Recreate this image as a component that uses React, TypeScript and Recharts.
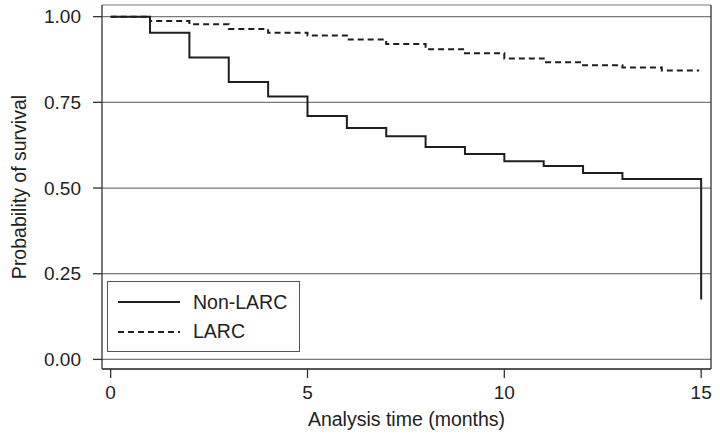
import { LineChart, Line, XAxis, YAxis, CartesianGrid, Legend, ReferenceLine } from "recharts";

// Kaplan-Meier estimates (months, survival probability)
const nonLarcTimes = [0, 1, 2, 3, 4, 5, 6, 7, 8, 9, 10, 11, 12, 13, 15];
const nonLarcSurv = [1.0, 0.953, 0.881, 0.809, 0.767, 0.71, 0.675, 0.651, 0.62, 0.599, 0.578, 0.564, 0.544, 0.526, 0.175];

const larcTimes = [0, 1, 2, 3, 4, 5, 6, 7, 8, 9, 10, 11, 12, 13, 14, 14.95];
const larcSurv = [1.0, 0.987, 0.978, 0.964, 0.953, 0.945, 0.933, 0.92, 0.905, 0.893, 0.878, 0.867, 0.858, 0.852, 0.843, 0.843];

const xTicks = [0, 5, 10, 15];
const yTicks = [0, 0.25, 0.5, 0.75, 1];

const nonLarcData = nonLarcTimes.map((t, i) => ({ t, s: nonLarcSurv[i] }));
const larcData = larcTimes.map((t, i) => ({ t, s: larcSurv[i] }));

const series = [
  { name: "Non-LARC", dash: undefined as string | undefined },
  { name: "LARC", dash: "6 4" },
];

const font = "'Liberation Sans', Arial, Helvetica, sans-serif";
const ink = "#1e1e1e";

function renderLegend() {
  return (
    <div
      style={{
        width: 193,
        height: 71,
        border: "1.5px solid #555",
        boxSizing: "border-box",
        position: "relative",
        background: "#fff",
        fontFamily: font,
        fontSize: 19.5,
        color: "#222",
      }}
    >
      {series.map((s, i) => (
        <div
          key={s.name}
          style={{
            position: "absolute",
            left: 10,
            top: 7 + i * 29.5,
            height: 26,
            display: "flex",
            alignItems: "center",
            whiteSpace: "nowrap",
          }}
        >
          <svg width={62} height={4} style={{ display: "block" }}>
            <line x1={0} y1={2} x2={62} y2={2} stroke={ink} strokeWidth={2} strokeDasharray={s.dash} />
          </svg>
          <span style={{ marginLeft: 13 }}>{s.name}</span>
        </div>
      ))}
    </div>
  );
}

export default function App() {
  return (
    <div style={{ position: "absolute", left: 0, top: 0, background: "#fff" }}>
      <LineChart width={720} height={434} margin={{ top: 5, right: 9, left: 0, bottom: 0 }}>
        <CartesianGrid vertical={false} stroke="#7a7a7a" strokeWidth={1.2} />
        <XAxis
          type="number"
          dataKey="t"
          domain={[-0.22, 15.25]}
          ticks={xTicks}
          allowDataOverflow
          height={65}
          tickSize={9}
          tickMargin={8}
          stroke="#333"
          strokeWidth={1.3}
          tick={{ fill: "#222", fontSize: 19, fontFamily: font }}
          label={{ value: "Analysis time (months)", position: "insideBottom", offset: 8, fill: "#222", fontSize: 19.5, fontFamily: font }}
        />
        <YAxis
          type="number"
          domain={[-0.028, 1.034]}
          ticks={yTicks}
          allowDataOverflow
          width={102}
          tickSize={9}
          tickMargin={12}
          stroke="#333"
          strokeWidth={1.3}
          tickFormatter={(v: number) => v.toFixed(2)}
          tick={{ fill: "#222", fontSize: 19, fontFamily: font }}
          label={{
            content: () => (
              <text
                x={19}
                y={187}
                transform="rotate(-90 19 187)"
                textAnchor="middle"
                dominantBaseline="central"
                fill="#222"
                fontSize={19.5}
                fontFamily={font}
              >
                Probability of survival
              </text>
            ),
          }}
        />
        <ReferenceLine x={15.25} stroke="#333" strokeWidth={1.3} ifOverflow="extendDomain" />
        <Line
          data={nonLarcData}
          dataKey="s"
          name="Non-LARC"
          type="stepAfter"
          stroke={ink}
          strokeWidth={2}
          dot={false}
          activeDot={false}
          isAnimationActive={false}
        />
        <Line
          data={larcData}
          dataKey="s"
          name="LARC"
          type="stepAfter"
          stroke={ink}
          strokeWidth={2}
          strokeDasharray="6 4"
          dot={false}
          activeDot={false}
          isAnimationActive={false}
        />
        <Legend
          layout="vertical"
          align="center"
          verticalAlign="middle"
          content={renderLegend}
          wrapperStyle={{ left: 107, top: 281, width: 193, height: 71 }}
        />
      </LineChart>
    </div>
  );
}
